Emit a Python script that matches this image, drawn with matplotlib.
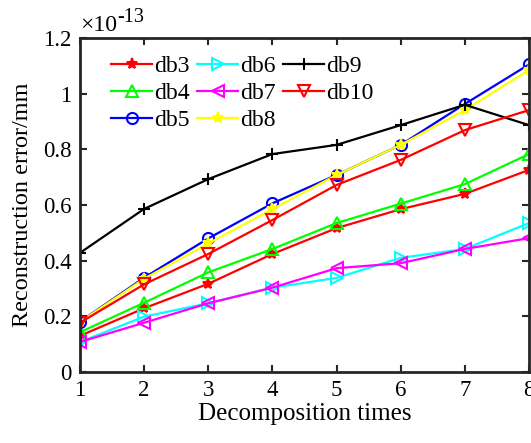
import matplotlib
matplotlib.use("Agg")
import matplotlib.pyplot as plt
from matplotlib.ticker import FuncFormatter

plt.rcParams['font.family'] = ['Liberation Serif', 'DejaVu Serif']
plt.rcParams['mathtext.fontset'] = 'stix'

x = [1, 2, 3, 4, 5, 6, 7, 8]
db3 = [0.13, 0.229, 0.317, 0.424, 0.517, 0.585, 0.640, 0.726]
db4 = [0.143, 0.249, 0.358, 0.442, 0.535, 0.605, 0.675, 0.783]
db5 = [0.181, 0.339, 0.480, 0.606, 0.708, 0.816, 0.963, 1.105]
db6 = [0.108, 0.199, 0.247, 0.303, 0.338, 0.41, 0.442, 0.535]
db7 = [0.108, 0.177, 0.247, 0.303, 0.373, 0.391, 0.442, 0.481]
db8 = [0.18, 0.335, 0.462, 0.585, 0.708, 0.816, 0.941, 1.085]
db9 = [0.428, 0.586, 0.693, 0.783, 0.816, 0.887, 0.960, 0.887]
db10 = [0.177, 0.315, 0.424, 0.546, 0.672, 0.762, 0.869, 0.941]

names = ['db3', 'db4', 'db5', 'db6', 'db7', 'db8', 'db9', 'db10']
series = [db3, db4, db5, db6, db7, db8, db9, db10]
colors = ['#FF0000', '#00FF00', '#0000FF', '#00FFFF', '#FF00FF', '#FFFF00', '#000000', '#FF0000']
markers = ['*', '^', 'o', '>', '<', '*', '+', 'v']
filled = [True, False, False, False, False, True, True, False]

fig = plt.figure(figsize=(5.31, 4.43), dpi=100)
ax = fig.add_axes([80/531, 1-372/443, 449/531, (372-38)/443])

for n, s, c, m, f in zip(names, series, colors, markers, filled):
    ax.plot(x, s, color=c, marker=m, lw=1.6, ms=8,
            markerfacecolor=(c if f else 'none'), markeredgecolor=c,
            markeredgewidth=1.5, label=n)

ax.set_xlim(1, 8)
ax.set_ylim(0, 1.2)
ax.set_xticks(x)
yt = [0, 0.2, 0.4, 0.6, 0.8, 1.0, 1.2]
ax.set_yticks(yt)
ax.yaxis.set_major_formatter(FuncFormatter(lambda v, p: '%g' % round(v, 2)))
ax.tick_params(direction='in', top=True, right=True, length=5, width=1.5,
               labelsize=16.5, colors='#262626', labelcolor='black', pad=6)
for sp in ax.spines.values():
    sp.set_linewidth(2)
    sp.set_color('#262626')

ax.set_xlabel('Decomposition times', fontsize=18, labelpad=1)
ax.set_ylabel('Reconstruction error/mm', fontsize=17.5, labelpad=7)
t = ax.text(0.0, 1.005, '×10', transform=ax.transAxes, fontsize=17,
            ha='left', va='bottom')
ax.annotate('-13', xy=(1.0, 0.45), xycoords=t, fontsize=14.5,
            ha='left', va='bottom')

ax.legend(ncol=3, loc='upper left', bbox_to_anchor=(0.048, 0.975), frameon=False,
          fontsize=17, handlelength=1.74, columnspacing=0.3, handletextpad=0.1,
          labelspacing=0.22, borderaxespad=0)

fig.savefig('out.png', dpi=100)
